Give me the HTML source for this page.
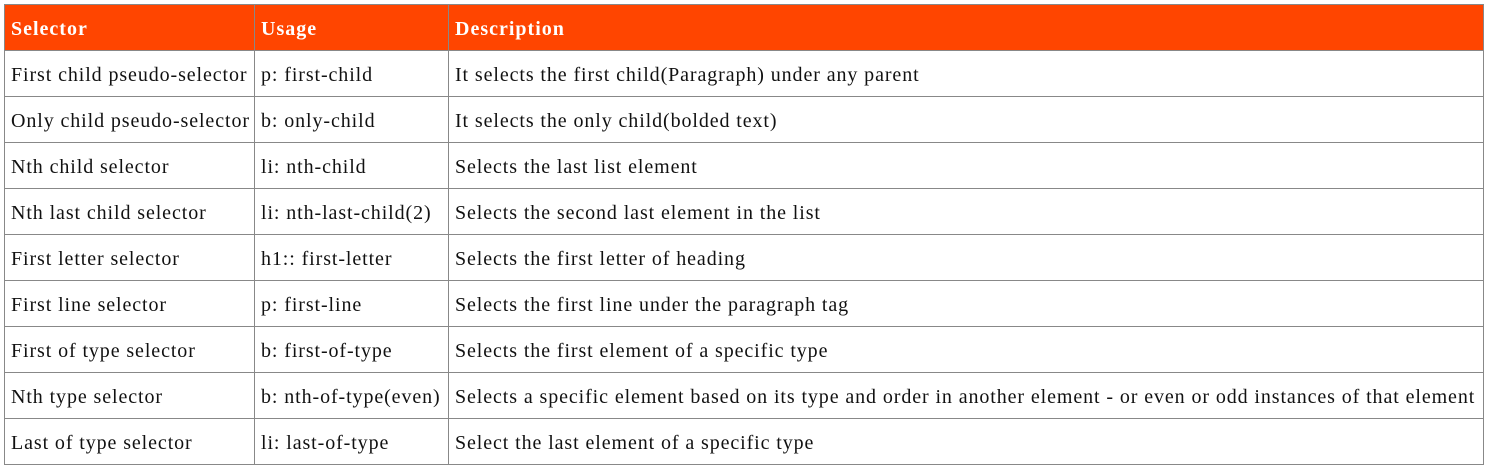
<!DOCTYPE html>
<html><head><style>
html,body{margin:0;padding:0;background:#fff;width:1487px;height:469px;overflow:hidden}
table{position:absolute;left:4px;top:4px;border-collapse:collapse;table-layout:fixed;width:1479px;font-family:"Liberation Serif",serif;font-size:20px;letter-spacing:0.9px;color:#111}
tr{height:46px}
td,th{border:1px solid #888;height:46px;padding:4px 0 0 6px;box-sizing:border-box;text-align:left;white-space:nowrap;overflow:visible}
th{background:#ff4500;color:#fff;font-weight:bold;letter-spacing:1px}
</style></head><body>
<table>
<colgroup><col style="width:250px"><col style="width:194px"><col style="width:1035px"></colgroup>
<tr><th>Selector</th><th>Usage</th><th>Description</th></tr>
<tr><td>First child pseudo-selector</td><td>p: first-child</td><td>It selects the first child(Paragraph) under any parent</td></tr>
<tr><td>Only child pseudo-selector</td><td>b: only-child</td><td>It selects the only child(bolded text)</td></tr>
<tr><td>Nth child selector</td><td>li: nth-child</td><td>Selects the last list element</td></tr>
<tr><td>Nth last child selector</td><td>li: nth-last-child(2)</td><td>Selects the second last element in the list</td></tr>
<tr><td>First letter selector</td><td>h1:: first-letter</td><td>Selects the first letter of heading</td></tr>
<tr><td>First line selector</td><td>p: first-line</td><td>Selects the first line under the paragraph tag</td></tr>
<tr><td>First of type selector</td><td>b: first-of-type</td><td>Selects the first element of a specific type</td></tr>
<tr><td>Nth type selector</td><td>b: nth-of-type(even)</td><td>Selects a specific element based on its type and order in another element - or even or odd instances of that element</td></tr>
<tr><td>Last of type selector</td><td>li: last-of-type</td><td>Select the last element of a specific type</td></tr>
</table>
</body></html>
